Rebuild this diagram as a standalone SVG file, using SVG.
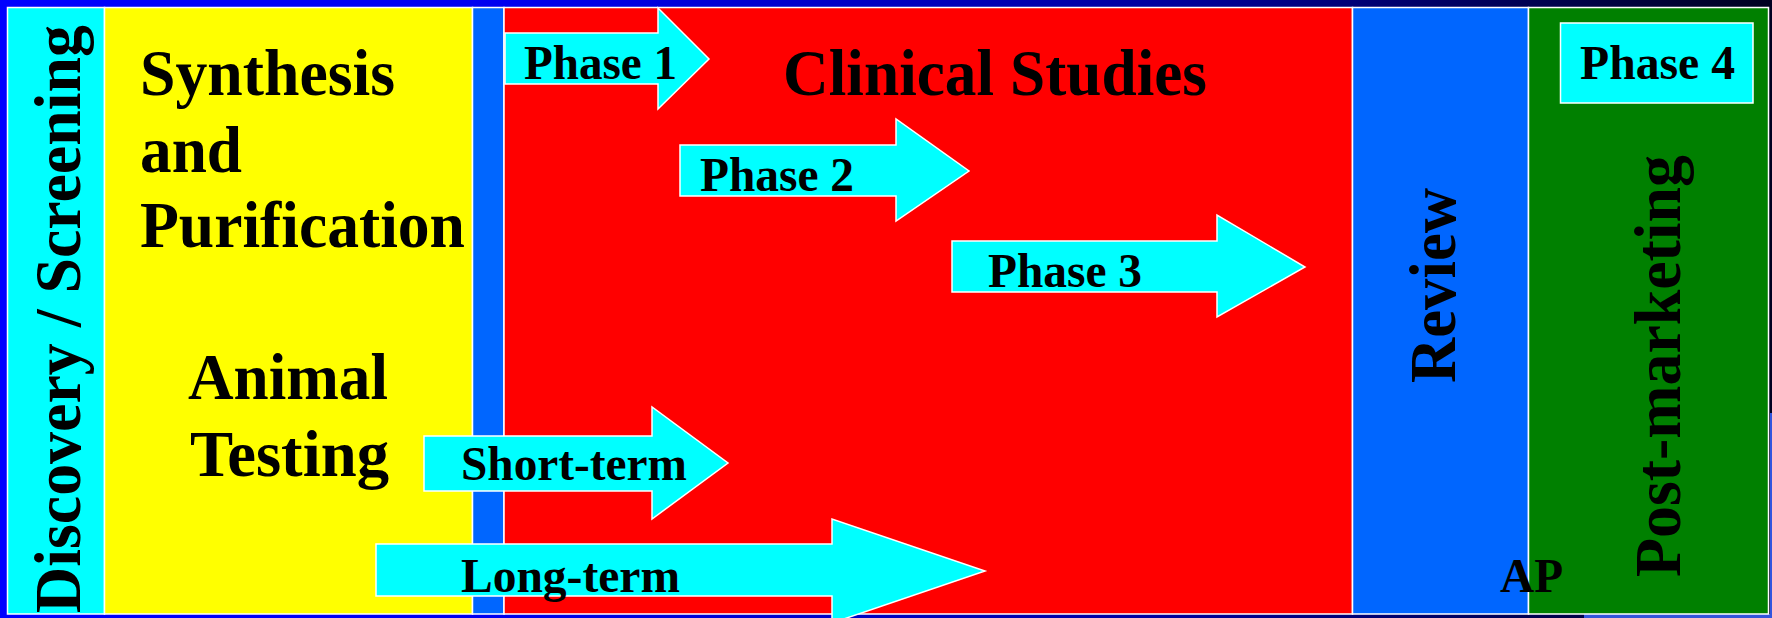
<svg xmlns="http://www.w3.org/2000/svg" width="1772" height="618" viewBox="0 0 1772 618">
  <defs>
    <linearGradient id="bg" x1="0" y1="0" x2="1772" y2="0" gradientUnits="userSpaceOnUse">
      <stop offset="0" stop-color="#0000ff"/>
      <stop offset="0.28" stop-color="#0000f0"/>
      <stop offset="0.65" stop-color="#0000a0"/>
      <stop offset="1" stop-color="#000020"/>
    </linearGradient>
    <style>
      .col { stroke: #ffffff; stroke-width: 1.5; }
      .arrow { fill: #00ffff; stroke: #ffffff; stroke-width: 1.5; stroke-linejoin: miter; }
      .t { font-family: "Liberation Serif", "Times New Roman", serif; font-weight: bold; fill: #000000; }
      .big { font-size: 66px; }
      .mid { font-size: 48px; }
    </style>
  </defs>

  <!-- background -->
  <rect x="0" y="0" width="1772" height="618" fill="url(#bg)"/>
  <rect x="1584" y="614" width="188" height="4" fill="#3355dd"/>
  <rect x="1770" y="413" width="2" height="205" fill="#3355dd"/>

  <!-- columns -->
  <g id="discovery">
    <rect class="col" x="7.5" y="7.5" width="97" height="606.5" fill="#00ffff"/>
    <text class="t big" transform="translate(80,319) rotate(-90)" text-anchor="middle" textLength="588" lengthAdjust="spacingAndGlyphs">Discovery / Screening</text>
  </g>
  <g id="synthesis">
    <rect class="col" x="104.5" y="7.5" width="368" height="606.5" fill="#ffff00"/>
    <text class="t big" x="140" y="95" textLength="255" lengthAdjust="spacingAndGlyphs">Synthesis</text>
    <text class="t big" x="140" y="172" textLength="102" lengthAdjust="spacingAndGlyphs">and</text>
    <text class="t big" x="140" y="247" textLength="325" lengthAdjust="spacingAndGlyphs">Purification</text>
  </g>
  <g id="animal-testing">
    <text class="t big" x="188" y="399" textLength="200" lengthAdjust="spacingAndGlyphs">Animal</text>
    <text class="t big" x="190" y="476" textLength="199" lengthAdjust="spacingAndGlyphs">Testing</text>
  </g>
  <g id="ind-strip">
    <rect class="col" x="472.5" y="7.5" width="31.5" height="606.5" fill="#0066ff"/>
  </g>
  <g id="clinical">
    <rect class="col" x="504" y="7.5" width="848.5" height="606.5" fill="#ff0000"/>
    <text class="t big" x="783" y="95" textLength="424" lengthAdjust="spacingAndGlyphs">Clinical Studies</text>
  </g>
  <g id="review">
    <rect class="col" x="1352.5" y="7.5" width="176" height="606.5" fill="#0066ff"/>
    <text class="t big" transform="translate(1455,285.5) rotate(-90)" text-anchor="middle" textLength="195" lengthAdjust="spacingAndGlyphs">Review</text>
  </g>
  <g id="post-marketing">
    <rect class="col" x="1528.5" y="7.5" width="240" height="606.5" fill="#008000"/>
    <text class="t big" transform="translate(1680,366) rotate(-90)" text-anchor="middle" textLength="422" lengthAdjust="spacingAndGlyphs">Post-marketing</text>
  </g>
  <g id="phase4">
    <rect class="col" x="1560.5" y="23" width="192.5" height="80" fill="#00ffff"/>
    <text class="t mid" x="1580" y="79" textLength="155" lengthAdjust="spacingAndGlyphs">Phase 4</text>
  </g>
  <g id="ap">
    <text class="t mid" x="1500" y="592" textLength="63" lengthAdjust="spacingAndGlyphs">AP</text>
  </g>

  <!-- block arrows -->
  <g id="connectors">
    <g id="phase1">
      <polygon class="arrow" points="505,33 658,33 658,8 709,59 658,109 658,84 505,84"/>
      <text class="t mid" x="524" y="79" textLength="153" lengthAdjust="spacingAndGlyphs">Phase 1</text>
    </g>
    <g id="phase2">
      <polygon class="arrow" points="680,145 896,145 896,119 969,171 896,221 896,196 680,196"/>
      <text class="t mid" x="700" y="191" textLength="154" lengthAdjust="spacingAndGlyphs">Phase 2</text>
    </g>
    <g id="phase3">
      <polygon class="arrow" points="952,241 1217,241 1217,215 1305,267 1217,317 1217,292 952,292"/>
      <text class="t mid" x="988" y="287" textLength="154" lengthAdjust="spacingAndGlyphs">Phase 3</text>
    </g>
    <g id="short-term">
      <polygon class="arrow" points="424,436 652,436 652,407 728,463 652,519 652,491 424,491"/>
      <text class="t mid" x="461" y="480" textLength="226" lengthAdjust="spacingAndGlyphs">Short-term</text>
    </g>
    <g id="long-term">
      <polygon class="arrow" points="376,544 832,544 832,519 985,571 832,623 832,596 376,596"/>
      <text class="t mid" x="461" y="592" textLength="219" lengthAdjust="spacingAndGlyphs">Long-term</text>
    </g>
  </g>
</svg>
